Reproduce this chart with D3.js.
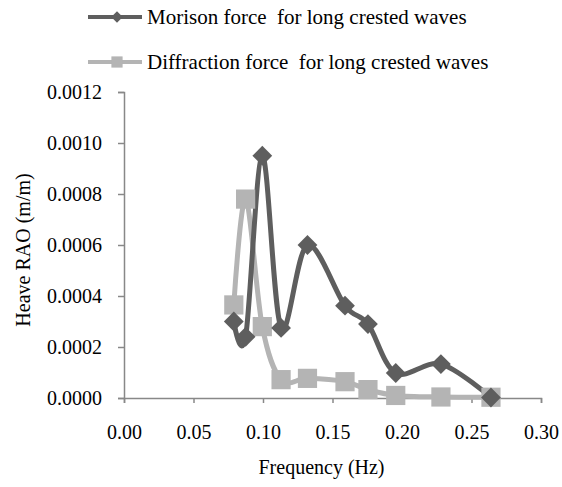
<!DOCTYPE html>
<html>
<head>
<meta charset="utf-8">
<script src="https://cdn.jsdelivr.net/npm/d3@7"></script>
<style>
  body { margin: 0; background: #fff; }
</style>
</head>
<body>
<div id="graph"></div>
<script>
// data
const freq = [0.079, 0.0875, 0.0995, 0.113, 0.132, 0.159, 0.1755, 0.1955, 0.228, 0.264];
const morison = [0.00030, 0.00024, 0.00095, 0.000275, 0.00060, 0.000362, 0.00029, 0.000098, 0.000133, 0.000002];
const diffraction = [0.000365, 0.00078, 0.00028, 0.000072, 0.000077, 0.000064, 0.000033, 0.000010, 0.000004, 0.000003];
const xTicks = [0, 0.05, 0.10, 0.15, 0.20, 0.25, 0.30];
const yTicks = [0, 0.0002, 0.0004, 0.0006, 0.0008, 0.0010, 0.0012];

const series = [
  {name: "Morison force  for long crested waves", values: morison, color: "#5e5e5e", shape: "diamond"},
  {name: "Diffraction force  for long crested waves", values: diffraction, color: "#b4b4b4", shape: "square"}
];

const serif = '"Liberation Serif", "Times New Roman", serif';

// set the dimensions and margins of the graph
const W = 562, H = 487;
const margin = {top: 92, right: 21, bottom: 89, left: 124},
  width = W - margin.left - margin.right,
  height = H - margin.top - margin.bottom;

const svg = d3.select("#graph")
  .append("svg")
    .attr("width", W)
    .attr("height", H);

const g = svg.append("g")
  .attr("transform", `translate(${margin.left}, ${margin.top})`);

const x = d3.scaleLinear().domain([0, 0.30]).range([0, width]);
const y = d3.scaleLinear().domain([0, 0.0012]).range([height, 0]);

// axes
const xAxis = g.append("g")
  .attr("transform", `translate(0, ${height})`)
  .call(d3.axisBottom(x).tickValues(xTicks).tickFormat(d3.format(".2f")).tickSize(5).tickPadding(22));
const yAxis = g.append("g")
  .call(d3.axisLeft(y).tickValues(yTicks).tickFormat(d3.format(".4f")).tickSize(6).tickPadding(16));

[xAxis, yAxis].forEach(a => {
  a.attr("font-family", serif).attr("font-size", 20);
  a.select(".domain").attr("stroke", "#888").attr("stroke-width", 1.5);
  a.selectAll(".tick line").attr("stroke", "#888").attr("stroke-width", 1.5);
  a.selectAll(".tick text").attr("fill", "#000");
});

// axis titles
svg.append("text")
  .attr("x", margin.left + width / 2 - 11)
  .attr("y", 474)
  .attr("text-anchor", "middle")
  .attr("font-family", serif)
  .attr("font-size", 20)
  .text("Frequency (Hz)");

svg.append("text")
  .attr("transform", `translate(30, 250) rotate(-90)`)
  .attr("text-anchor", "middle")
  .attr("font-family", serif)
  .attr("font-size", 20)
  .text("Heave RAO (m/m)");

const line = d3.line()
  .x((d, i) => x(freq[i]))
  .y(d => y(d))
  .curve(d3.curveCardinal.tension(0));

const symbol = s => s === "diamond"
  ? d3.symbol().type(d3.symbolDiamond2).size(250)()
  : d3.symbol().type(d3.symbolSquare2).size(470)();

// diffraction drawn first, morison on top
series.slice().reverse().forEach(s => {
  g.append("path")
    .datum(s.values)
    .attr("fill", "none")
    .attr("stroke", s.color)
    .attr("stroke-width", 5)
    .attr("d", line);
});
series.slice().reverse().forEach(s => {
  g.selectAll(null)
    .data(s.values)
    .join("path")
    .attr("transform", (d, i) => `translate(${x(freq[i])}, ${y(d)})`)
    .attr("d", symbol(s.shape))
    .attr("fill", s.color);
});

// legend
const legend = svg.append("g");
series.forEach((s, i) => {
  const ly = 17 + i * 45;
  legend.append("line")
    .attr("x1", 88).attr("x2", 142)
    .attr("y1", ly).attr("y2", ly)
    .attr("stroke", s.color).attr("stroke-width", 4);
  legend.append("path")
    .attr("transform", `translate(117, ${ly})`)
    .attr("d", s.shape === "diamond"
      ? d3.symbol().type(d3.symbolDiamond2).size(85)()
      : d3.symbol().type(d3.symbolSquare2).size(160)())
    .attr("fill", s.color);
  legend.append("text")
    .attr("x", 147)
    .attr("y", ly + 7)
    .attr("font-family", serif)
    .attr("font-size", 21)
    .attr("xml:space", "preserve")
    .style("white-space", "pre")
    .text(s.name);
});
</script>
</body>
</html>
